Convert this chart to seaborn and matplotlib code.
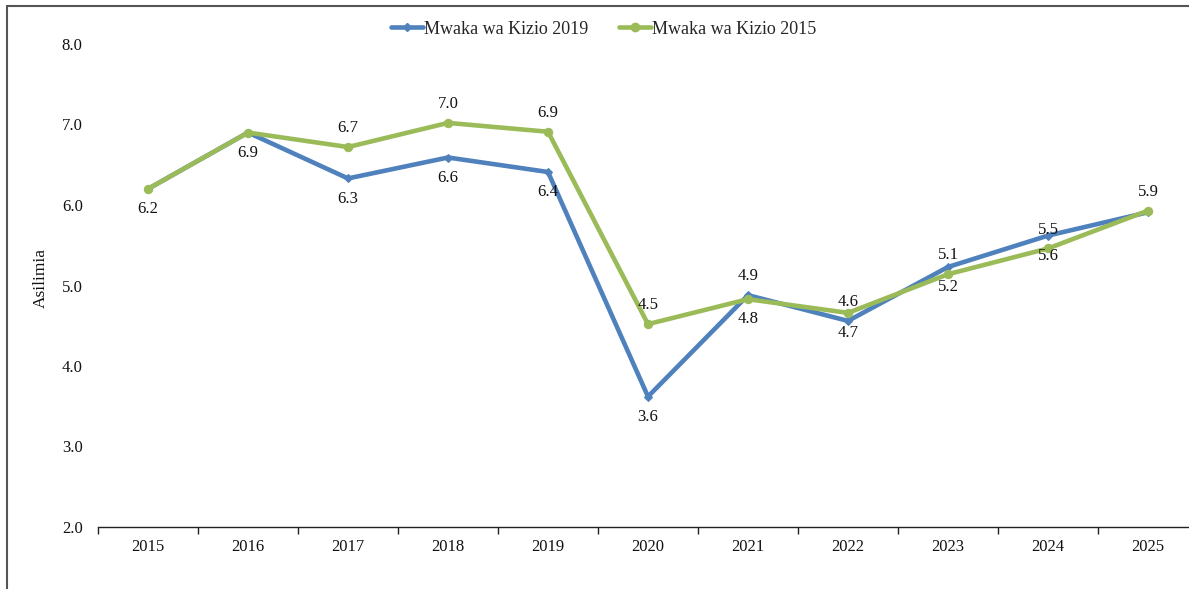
import matplotlib
matplotlib.use("Agg")
import matplotlib.pyplot as plt
from matplotlib.lines import Line2D
import numpy as np
import pandas as pd
import seaborn as sns

# Data
years = [2015, 2016, 2017, 2018, 2019, 2020, 2021, 2022, 2023, 2024, 2025]
series_2019 = [6.20, 6.90, 6.33, 6.59, 6.41, 3.62, 4.88, 4.56, 5.23, 5.62, 5.91]
series_2015 = [6.20, 6.90, 6.72, 7.02, 6.91, 4.52, 4.83, 4.66, 5.14, 5.46, 5.93]
name_2019 = "Mwaka wa Kizio 2019"
name_2015 = "Mwaka wa Kizio 2015"
# where each value label sits: +1 above the point, -1 below, 0 no label
label_side_2019 = [-1, -1, -1, -1, -1, -1, 1, 1, -1, -1, 0]
label_side_2015 = [0, 0, 1, 1, 1, 1, -1, -1, 1, 1, 1]
y_ticks = [2.0, 3.0, 4.0, 5.0, 6.0, 7.0, 8.0]

BLUE = "#4F81BD"
GREEN = "#9BBB59"

sns.set_theme(style="white")
plt.rcParams["font.family"] = ["Liberation Serif", "DejaVu Serif"]
FS = 12

W, H = 1189, 589
fig = plt.figure(figsize=(W / 100, H / 100), dpi=100)
ax = fig.add_axes([98 / W, 62 / H, 1100 / W, 483 / H])

df = pd.DataFrame({
    "year": years * 2,
    "value": series_2019 + series_2015,
    "series": [name_2019] * len(years) + [name_2015] * len(years),
})

sns.lineplot(data=df[df["series"] == name_2019], x="year", y="value",
             color=BLUE, lw=3.3, marker="D", markersize=4.5,
             markeredgecolor=BLUE, ax=ax, legend=False)
sns.lineplot(data=df[df["series"] == name_2015], x="year", y="value",
             color=GREEN, lw=3.3, marker="o", markersize=6,
             markeredgecolor=GREEN, ax=ax, legend=False)

# value labels
for vals, sides in ((series_2019, label_side_2019), (series_2015, label_side_2015)):
    for x, v, s in zip(years, vals, sides):
        if s == 0:
            continue
        off = 13.5 if s > 0 else -14.5
        ax.annotate(f"{v:.1f}", (x, v), xytext=(0, off), textcoords="offset points",
                    ha="center", va="center", fontsize=FS, color="#111111")

# axes styling
ax.set_ylim(2.0, 8.0)
ax.set_xlim(years[0] - 0.5, years[-1] + 0.5)
ax.set_yticks(y_ticks)
ax.set_yticklabels([f"{t:.1f}" for t in y_ticks], fontsize=FS, color="#111111")
ax.tick_params(axis="y", length=0, pad=11)

ax.set_xticks([y - 0.5 for y in years] + [years[-1] + 0.5])
ax.set_xticklabels([])
ax.set_xticks(years, minor=True)
ax.set_xticklabels([str(y) for y in years], minor=True, fontsize=FS, color="#111111")
ax.tick_params(axis="x", which="major", length=5, width=1, color="#222222", direction="out", bottom=True)
ax.tick_params(axis="x", which="minor", length=0, pad=8.5)

for side in ("left", "right", "top"):
    ax.spines[side].set_visible(False)
ax.spines["bottom"].set_color("#222222")
ax.spines["bottom"].set_linewidth(1)

ax.set_xlabel("")
ax.set_ylabel("Asilimia", fontsize=12.5, color="#111111")
ax.yaxis.set_label_coords(-0.045, 0.515)
ax.grid(False)

# legend
handles = [
    Line2D([], [], color=BLUE, lw=3.3, marker="D", markersize=4.5, markeredgecolor=BLUE),
    Line2D([], [], color=GREEN, lw=3.3, marker="o", markersize=6, markeredgecolor=GREEN),
]
fig.legend(handles, [name_2019, name_2015], loc="center", ncol=2,
           bbox_to_anchor=(604 / W, 1 - 29 / H), frameon=False, fontsize=13,
           handlelength=1.75, handletextpad=0.08, columnspacing=1.7)

# outer frame (left and top edges)
fig.add_artist(Line2D([7 / W, 7 / W], [0, 1 - 6 / H], color="#555555", lw=1.5,
                      transform=fig.transFigure))
fig.add_artist(Line2D([7 / W, 1], [1 - 6 / H, 1 - 6 / H], color="#555555", lw=1.5,
                      transform=fig.transFigure))

fig.savefig("out.png", dpi=100)
